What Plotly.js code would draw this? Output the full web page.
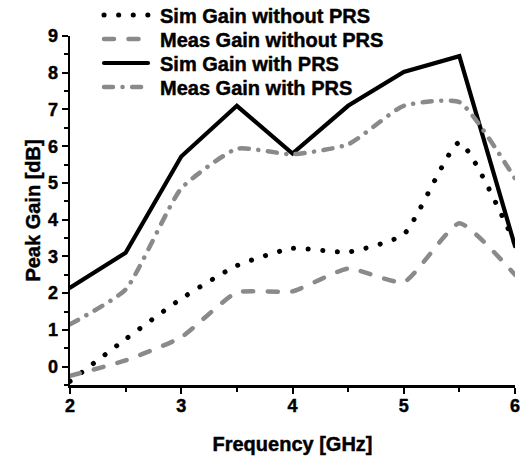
<!DOCTYPE html>
<html>
<head>
<meta charset="utf-8">
<script src="https://cdn.plot.ly/plotly-3.0.1.min.js"></script>
<style>html,body{margin:0;padding:0;background:#fff;}#chart{width:521px;height:457px;}
#chart text{font-weight:bold !important; stroke:#000; stroke-width:0.45px;}</style>
</head>
<body>
<div id="chart"></div>
<script>
var freq = [2, 2.5, 3, 3.5, 4, 4.5, 5, 5.5, 6];
var simWithout = [-0.4, 0.75, 1.85, 2.75, 3.22, 3.12, 3.6, 6.1, 3.35];
var measWithout = [-0.25, 0.17, 0.8, 2.02, 2.05, 2.67, 2.3, 3.9, 2.5];
var simWith = [2.15, 3.1, 5.72, 7.1, 5.8, 7.1, 8.02, 8.45, 3.28];
var measWith = [1.15, 2.1, 4.85, 5.93, 5.78, 6.05, 7.1, 7.2, 5.12];
var names = ['Sim Gain without PRS', 'Meas Gain without PRS', 'Sim Gain with PRS', 'Meas Gain with PRS'];

var gray = '#8a8a8a';
var fam = 'Liberation Sans, Arial, sans-serif';
var traces = [
  {x: freq, y: simWithout, name: names[0], mode: 'lines',
   line: {color: '#000', width: 5, dash: '0.1px,14.5px', shape: 'spline', smoothing: 0.5}},
  {x: freq, y: measWithout, name: names[1], mode: 'lines',
   line: {color: gray, width: 4.5, dash: '10px,14.5px', shape: 'spline', smoothing: 0.5}},
  {x: freq, y: simWith, name: names[2], mode: 'lines',
   line: {color: '#000', width: 4.2}},
  {x: freq, y: measWith, name: names[3], mode: 'lines',
   line: {color: gray, width: 4.5, dash: '9px,9.5px,0.1px,9.5px', shape: 'spline', smoothing: 0.5}}
];

var tickFont = {family: fam, size: 18, color: '#000', weight: 700};
var layout = {
  width: 521, height: 457,
  margin: {l: 70, r: 6, t: 31, b: 72},
  paper_bgcolor: '#fff', plot_bgcolor: '#fff',
  showlegend: true,
  legend: {x: 0.07, y: 1.085, xanchor: 'left', yanchor: 'top', bgcolor: 'rgba(0,0,0,0)',
           font: {family: fam, size: 20, color: '#000', weight: 700},
           itemwidth: 50, tracegroupgap: 0},
  xaxis: {
    range: [2, 6], dtick: 1, tick0: 2, showgrid: false, zeroline: false,
    showline: true, linecolor: '#000', linewidth: 2.5,
    ticks: 'outside', ticklen: 6, tickwidth: 2, tickcolor: '#000',
    minor: {dtick: 0.5, ticks: 'outside', ticklen: 4, tickwidth: 2, tickcolor: '#000', showgrid: false},
    tickfont: tickFont, ticklabelstandoff: -3,
    title: {text: 'Frequency [GHz]', font: {family: fam, size: 20, color: '#000', weight: 700}, standoff: 22}
  },
  yaxis: {
    range: [-0.5, 9], dtick: 1, tick0: 0, showgrid: false, zeroline: false,
    showline: true, linecolor: '#000', linewidth: 2.5,
    ticks: 'outside', ticklen: 6, tickwidth: 2, tickcolor: '#000',
    minor: {dtick: 0.5, ticks: 'outside', ticklen: 4, tickwidth: 2, tickcolor: '#000', showgrid: false},
    tickfont: tickFont,
    title: {text: 'Peak Gain [dB]', font: {family: fam, size: 20, color: '#000', weight: 700}, standoff: 2}
  }
};

function getT(el) {
  var m = /translate\(\s*([-\d.e]+)[\s,]*([-\d.e]+)?\s*\)/.exec(el.getAttribute('transform') || '');
  return m ? {x: parseFloat(m[1]), y: parseFloat(m[2] || 0)} : {x: 0, y: 0};
}

Plotly.newPlot('chart', traces, layout, {staticPlot: true, displayModeBar: false}).then(function () {
  document.querySelectorAll('.scatterlayer .trace path.js-line, .legend .traces path.js-line').forEach(function (p) {
    p.style.strokeLinecap = 'round';
  });
  // legend: tighter rows and longer samples, as in the reference
  var leg = document.querySelector('g.legend');
  var items = leg.querySelectorAll('g.traces');
  var t0 = getT(items[0]);
  items.forEach(function (it, i) {
    it.setAttribute('transform', 'translate(' + t0.x + ',' + (t0.y + 24 * i) + ')');
    var txt = it.querySelector('text.legendtext');
    var tx = parseFloat(txt.getAttribute('x'));
    var p = it.querySelector('path.js-line');
    if (p) p.setAttribute('d', 'M' + (tx - 56) + ',0h44');
  });
  var lr = items[0].querySelector('path.js-line').getBoundingClientRect();
  var tr = items[0].querySelector('text.legendtext').getBoundingClientRect();
  var lt = getT(leg);
  leg.setAttribute('transform', 'translate(' + (lt.x + 160 - tr.left) + ',' + (lt.y + 15 - (lr.top + lr.height / 2)) + ')');
});
</script>
</body>
</html>
